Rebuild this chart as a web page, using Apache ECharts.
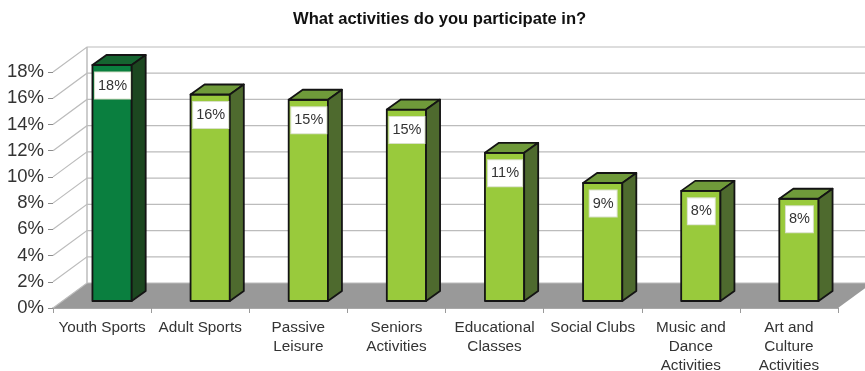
<!DOCTYPE html>
<html>
<head>
<meta charset="utf-8">
<style>html,body{margin:0;padding:0;background:#fff}#chart{width:865px;height:371px}</style>
<script src="https://cdn.jsdelivr.net/npm/echarts@6/dist/echarts.min.js"></script>
</head>
<body>
<div id="chart"></div>
<script>
const categories = ['Youth Sports', 'Adult Sports', 'Passive\nLeisure', 'Seniors\nActivities',
  'Educational\nClasses', 'Social Clubs', 'Music and\nDance\nActivities', 'Art and\nCulture\nActivities'];
const shares = [18, 15.75, 15.35, 14.6, 11.3, 9, 8.4, 7.8];
const tickValues = [0, 2, 4, 6, 8, 10, 12, 14, 16, 18];
const highlighted = 0;

// Oblique projection of the 3D box: wall depth and bar depth, in pixels
const WALL_DX = 34, WALL_DY = -25;
const BAR_OFFSET_X = 10, BAR_OFFSET_Y = -7;
const BAR_DX = 14, BAR_DY = -10;
const GRID_COLOR = '#bcbcbc';

const palettes = {
  dark: { front: '#0a7f3f', top: '#156430', side: '#1c4720' },
  light: { front: '#99ca3c', top: '#6f9a3a', side: '#4e6a2e' }
};

function poly(points, fill, stroke, lineWidth) {
  return {
    type: 'polygon',
    shape: { points },
    style: { fill, stroke: stroke || null, lineWidth: lineWidth || 0, lineJoin: 'round' }
  };
}

// Floor plane, drawn once from the zero line of the value axis
function renderFloor(params, api) {
  const sys = params.coordSys;
  const y0 = api.coord([0, 0])[1];
  const x0 = sys.x, x1 = sys.x + sys.width;
  return poly([[x0, y0], [x1, y0], [x1 + WALL_DX, y0 + WALL_DY], [x0 + WALL_DX, y0 + WALL_DY]], '#999999');
}

// One gridline per tick: up the side wall, then along the back wall
function renderGridline(params, api) {
  const sys = params.coordSys;
  const y = api.coord([0, api.value(1)])[1];
  const x0 = sys.x, x1 = sys.x + sys.width;
  const children = [{
    type: 'polyline',
    shape: { points: [[x0, y], [x0 + WALL_DX, y + WALL_DY], [x1 + WALL_DX, y + WALL_DY]] },
    style: { fill: null, stroke: GRID_COLOR, lineWidth: 1.2 }
  }];
  if (params.dataIndex === 0) {
    children.push({
      type: 'line',
      shape: {
        x1: x0 + WALL_DX, y1: y + WALL_DY,
        x2: x0 + WALL_DX, y2: api.coord([0, 18])[1] + WALL_DY
      },
      style: { stroke: GRID_COLOR, lineWidth: 1.5 }
    });
  }
  return { type: 'group', children };
}

function renderBar(params, api) {
  const center = api.coord([api.value(0), api.value(1)]);
  const base = api.coord([api.value(0), 0]);
  const width = api.size([1, 0])[0] * 0.4;
  const pal = params.dataIndex === highlighted ? palettes.dark : palettes.light;
  const l = center[0] + BAR_OFFSET_X - width / 2, r = l + width;
  const t = center[1] + BAR_OFFSET_Y, b = base[1] + BAR_OFFSET_Y;
  const ink = '#141414', lw = 1.8;
  return {
    type: 'group',
    children: [
      poly([[l, t], [r, t], [r, b], [l, b]], pal.front, ink, lw),
      poly([[l, t], [l + BAR_DX, t + BAR_DY], [r + BAR_DX, t + BAR_DY], [r, t]], pal.top, ink, lw),
      poly([[r, t], [r + BAR_DX, t + BAR_DY], [r + BAR_DX, b + BAR_DY], [r, b]], pal.side, ink, lw),
      {
        type: 'text',
        style: {
          x: (l + r) / 2 + 0.5,
          y: t + 20.5,
          text: Math.round(api.value(1)) + '%',
          align: 'center',
          verticalAlign: 'middle',
          font: '14.5px "Liberation Sans", Arial, sans-serif',
          fill: '#333333',
          backgroundColor: '#ffffff',
          borderColor: '#d8e0c8',
          borderWidth: 1,
          padding: [6, 3, 5, 3]
        }
      }
    ]
  };
}

const chart = echarts.init(document.getElementById('chart'), null, { renderer: 'canvas' });
chart.setOption({
  animation: false,
  backgroundColor: '#ffffff',
  title: {
    text: 'What activities do you participate in?',
    left: 288,
    top: 6,
    textStyle: { fontFamily: '"Liberation Sans", Arial, sans-serif', fontSize: 16.6, fontWeight: 'bold', color: '#111111' }
  },
  grid: { left: 53, right: 27, top: 72, bottom: 63, containLabel: false, outerBoundsMode: 'none' },
  xAxis: {
    type: 'category',
    data: categories,
    axisLine: { lineStyle: { color: '#8c8c8c', width: 1.5 } },
    axisTick: { show: true, length: 5, lineStyle: { color: '#9a9a9a' } },
    axisLabel: {
      interval: 0,
      margin: 10,
      fontFamily: '"Liberation Sans", Arial, sans-serif',
      fontSize: 15.3,
      lineHeight: 19,
      color: '#333333',
      verticalAlign: 'top'
    },
    splitLine: { show: false }
  },
  yAxis: {
    type: 'value',
    min: 0,
    max: 18,
    interval: 2,
    axisLine: { show: false },
    axisTick: { show: true, length: 5, lineStyle: { color: '#8c8c8c' } },
    axisLabel: {
      formatter: '{value}%',
      margin: 9,
      fontFamily: '"Liberation Sans", Arial, sans-serif',
      fontSize: 18.5,
      color: '#333333'
    },
    splitLine: { show: false }
  },
  series: [
    { type: 'custom', z: 1, renderItem: renderFloor, data: [[0, 0]], silent: true },
    { type: 'custom', z: 2, renderItem: renderGridline, data: tickValues.map(v => [0, v]), silent: true },
    { type: 'custom', z: 3, renderItem: renderBar, data: shares.map((v, i) => [i, v]), silent: true }
  ]
});
</script>
</body>
</html>
